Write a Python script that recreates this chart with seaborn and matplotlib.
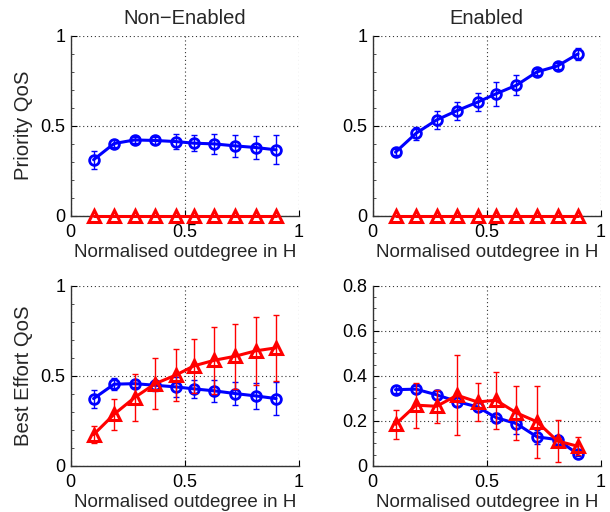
import matplotlib
matplotlib.use("Agg")
import matplotlib.pyplot as plt
from matplotlib.ticker import MultipleLocator
import seaborn as sns

# normalised outdegree positions (same for every panel)
outdegree = [0.10, 0.19, 0.28, 0.37, 0.46, 0.54, 0.63, 0.72, 0.81, 0.90]

# top-left: Priority QoS, non-enabled
prio_nonen_blue = [0.31, 0.40, 0.42, 0.417, 0.411, 0.402, 0.398, 0.387, 0.378, 0.365]
prio_nonen_blue_err = [0.05, 0.02, 0.015, 0.02, 0.04, 0.046, 0.055, 0.06, 0.065, 0.08]
prio_nonen_red = [0.0] * 10
prio_nonen_red_err = [0.0] * 10

# top-right: Priority QoS, enabled
prio_en_blue = [0.352, 0.457, 0.531, 0.583, 0.63, 0.676, 0.724, 0.798, 0.831, 0.898]
prio_en_blue_err = [0.015, 0.035, 0.05, 0.05, 0.05, 0.068, 0.055, 0.015, 0.015, 0.035]
prio_en_red = [0.0] * 10
prio_en_red_err = [0.0] * 10

# bottom-left: Best Effort QoS, non-enabled
be_nonen_blue = [0.374, 0.454, 0.457, 0.448, 0.439, 0.428, 0.417, 0.402, 0.389, 0.374]
be_nonen_blue_err = [0.05, 0.035, 0.02, 0.03, 0.055, 0.05, 0.06, 0.065, 0.074, 0.09]
be_nonen_red = [0.174, 0.287, 0.38, 0.457, 0.504, 0.556, 0.587, 0.609, 0.639, 0.656]
be_nonen_red_err = [0.046, 0.087, 0.13, 0.14, 0.145, 0.15, 0.185, 0.18, 0.19, 0.185]

# bottom-right: Best Effort QoS, enabled
be_en_blue = [0.339, 0.341, 0.316, 0.286, 0.262, 0.215, 0.188, 0.129, 0.117, 0.052]
be_en_blue_err = [0.015, 0.015, 0.02, 0.02, 0.02, 0.02, 0.045, 0.03, 0.02, 0.01]
be_en_red = [0.185, 0.27, 0.265, 0.314, 0.284, 0.292, 0.236, 0.196, 0.111, 0.087]
be_en_red_err = [0.065, 0.1, 0.073, 0.178, 0.085, 0.127, 0.12, 0.16, 0.093, 0.04]

col_titles = ["Non\u2212Enabled", "Enabled"]
row_labels = ["Priority QoS", "Best Effort QoS"]
xlabel = "Normalised outdegree in H"

panels = [
    (prio_nonen_blue, prio_nonen_blue_err, prio_nonen_red, prio_nonen_red_err, [0, 0.5, 1]),
    (prio_en_blue, prio_en_blue_err, prio_en_red, prio_en_red_err, [0, 0.5, 1]),
    (be_nonen_blue, be_nonen_blue_err, be_nonen_red, be_nonen_red_err, [0, 0.5, 1]),
    (be_en_blue, be_en_blue_err, be_en_red, be_en_red_err, [0, 0.2, 0.4, 0.6, 0.8]),
]

sns.set_style("white")
plt.rcParams['font.family'] = ['Liberation Sans', 'DejaVu Sans']

fig = plt.figure(figsize=(6.1, 5.12), dpi=100)
lefts = [0.116, 0.611]
bottoms = [0.579, 0.090]
w, h = 0.374, 0.3516


def fmt(v):
    return "%g" % v


for i, (b, be, r, re_, yt) in enumerate(panels):
    row, col = divmod(i, 2)
    ax = fig.add_axes([lefts[col], bottoms[row], w, h])

    ax.errorbar(outdegree, b, yerr=be, fmt='none', ecolor='#0000ff',
                elinewidth=1, capsize=2, capthick=1, zorder=2)
    ax.errorbar(outdegree, r, yerr=re_, fmt='none', ecolor='#ff0000',
                elinewidth=1, capsize=2, capthick=1, zorder=4)
    sns.lineplot(x=outdegree, y=b, color='#0000ff', marker='o',
                 linewidth=2.2, markersize=7, markerfacecolor='none',
                 markeredgecolor='#0000ff', markeredgewidth=2,
                 ax=ax, zorder=3)
    sns.lineplot(x=outdegree, y=r, color='#ff0000', marker='^',
                 linewidth=2.2, markersize=8, markerfacecolor='none',
                 markeredgecolor='#ff0000', markeredgewidth=2.2,
                 ax=ax, zorder=5, clip_on=False)

    ax.set_xlim(0, 1)
    ax.set_ylim(yt[0], yt[-1])
    ax.set_xticks([0, 0.5, 1])
    ax.set_xticklabels([fmt(v) for v in [0, 0.5, 1]])
    ax.set_yticks(yt)
    ax.set_yticklabels([fmt(v) for v in yt])
    ax.yaxis.set_minor_locator(MultipleLocator(0.1 if yt[-1] == 1 else 0.05))
    ax.grid(True, which='major', linestyle=(0, (1, 2.5)), color='#333333',
            linewidth=0.8)
    ax.set_axisbelow(True)
    for s in ['top', 'right']:
        ax.spines[s].set_visible(False)
    for s in ['left', 'bottom']:
        ax.spines[s].set_color('#333333')
        ax.spines[s].set_linewidth(1.0)
    ax.tick_params(which='major', direction='in', length=4, width=0.8,
                   labelsize=13, pad=4, left=True, bottom=True, colors='black')
    ax.tick_params(which='major', axis='x', pad=6)
    ax.tick_params(which='minor', axis='y', direction='in', length=2,
                   width=0.6, left=True, colors='#333333')
    ax.set_xlabel(xlabel, fontsize=13.5, labelpad=2)
    if col == 0:
        ax.set_ylabel(row_labels[row], fontsize=14.6, labelpad=5)
    else:
        ax.set_ylabel("")
    if row == 0:
        ax.set_title(col_titles[col], fontsize=14.5, pad=8)

fig.savefig("out.png", dpi=100)
